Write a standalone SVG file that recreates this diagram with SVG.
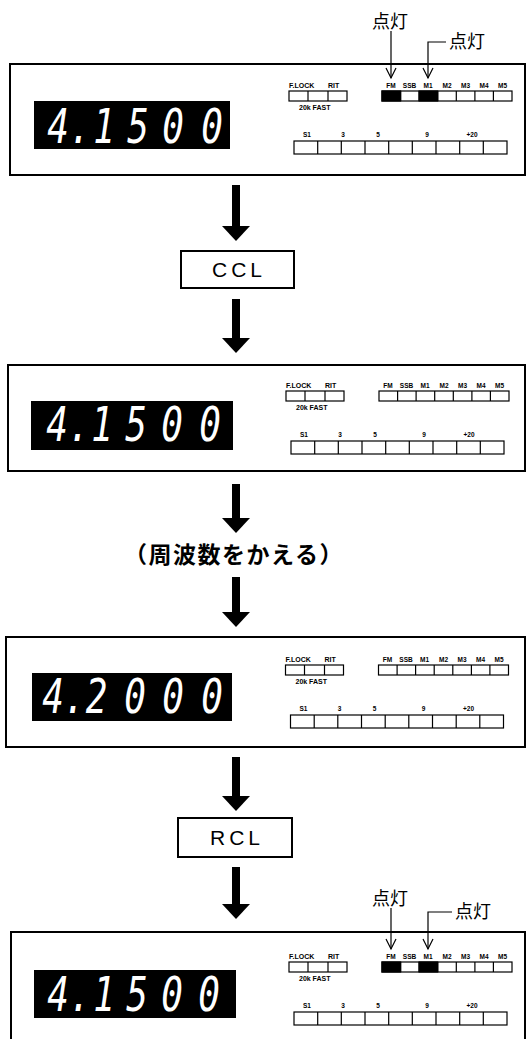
<svg xmlns="http://www.w3.org/2000/svg" width="528" height="1039" viewBox="0 0 528 1039">
<style>
  .panel{fill:#fff;stroke:#000;stroke-width:2}
  .disp{fill:#000}
  .seg{font-family:"DejaVu Sans Mono","Liberation Mono",monospace;font-style:italic;font-size:48px;fill:#fff;text-anchor:middle}
  .cell{fill:#fff;stroke:#000;stroke-width:1.2}
  .div{stroke:#000;stroke-width:1.2}
  .on{fill:#000;stroke:#000;stroke-width:1.2}
  .sm{font-family:"Liberation Sans",Arial,sans-serif;font-weight:bold;font-size:7px;fill:#000}
  .md{font-family:"Liberation Sans",Arial,sans-serif;font-weight:bold;font-size:6.5px;fill:#000;text-anchor:middle}
  .key{fill:#fff;stroke:#000;stroke-width:2}
  .keyt{font-family:"Liberation Sans",Arial,sans-serif;font-size:21px;fill:#000;text-anchor:middle;letter-spacing:4px}
  .jp{font-family:"Noto Sans CJK JP","Noto Sans CJK SC",sans-serif;fill:#000}
  .big{stroke:#000;stroke-width:8;fill:none;marker-end:url(#bighead)}
  .call{stroke:#000;stroke-width:1.2;fill:none}
  .callA{marker-end:url(#vhead)}
</style>
<defs>
  <marker id="bighead" markerUnits="userSpaceOnUse" markerWidth="30" markerHeight="16" refX="14" refY="0" orient="0" viewBox="0 0 28 16" overflow="visible">
    <path d="M0,0 L28,0 L14,15 Z" fill="#000"/>
  </marker>
  <marker id="vhead" markerUnits="userSpaceOnUse" markerWidth="12" markerHeight="12" refX="0" refY="0" orient="auto" viewBox="-11 -6 12 12" overflow="visible">
    <path d="M-10,-5 L0,0 L-10,5" fill="none" stroke="#000" stroke-width="1.2"/>
  </marker>
</defs>
<rect x="0" y="0" width="528" height="1039" fill="#fff"/>

<!-- Panel 1 -->
<g id="panel1">
  <rect class="panel" x="10" y="64" width="515" height="111"/>
  <rect class="disp" x="34" y="101" width="196" height="48"/>
  <text class="seg" y="143" transform="scale(0.75,1)"><tspan x="77.33">4</tspan><tspan x="106.67">.</tspan><tspan x="138.67">1</tspan><tspan x="184">5</tspan><tspan x="230.67">0</tspan><tspan x="282.67">0</tspan></text>
  <g>
    <text class="sm" x="289" y="88">F.LOCK</text>
    <text class="sm" x="328" y="88">RIT</text>
    <rect class="cell" x="289" y="91" width="58" height="10"/>
    <line class="div" x1="308" y1="91" x2="308" y2="101"/>
    <line class="div" x1="328" y1="91" x2="328" y2="101"/>
    <text class="sm" x="299" y="110">20k FAST</text>
    <text class="md" x="391" y="88">FM</text><text class="md" x="409.5" y="88">SSB</text><text class="md" x="428" y="88">M1</text><text class="md" x="447" y="88">M2</text><text class="md" x="465.5" y="88">M3</text><text class="md" x="484" y="88">M4</text><text class="md" x="502.5" y="88">M5</text>
    <rect class="cell" x="382" y="91" width="130" height="10"/>
    <rect class="on" x="382" y="91" width="18.6" height="10"/>
    <rect class="on" x="419.1" y="91" width="18.6" height="10"/>
    <path class="div" d="M400.6,91V101M419.1,91V101M437.7,91V101M456.3,91V101M474.9,91V101M493.4,91V101"/>
    <text class="md" x="307" y="137">S1</text><text class="md" x="343" y="137">3</text><text class="md" x="378" y="137">5</text><text class="md" x="427" y="137">9</text><text class="md" x="472" y="137">+20</text>
    <rect class="cell" x="294" y="141" width="213" height="13"/>
    <path class="div" d="M317.7,141V154M341.3,141V154M365,141V154M388.7,141V154M412.3,141V154M436,141V154M459.7,141V154M483.3,141V154"/>
  </g>
  <text class="jp" x="390" y="28" font-size="18" text-anchor="middle">点灯</text>
  <text class="jp" x="449" y="48" font-size="18">点灯</text>
</g>

<!-- CCL key -->
<g id="ccl">
  <rect class="key" x="181" y="251" width="113" height="37"/>
  <text class="keyt" x="239" y="277">CCL</text>
</g>

<!-- Panel 2 -->
<g id="panel2">
  <rect class="panel" x="8" y="365" width="517" height="106"/>
  <rect class="disp" x="31" y="401" width="202" height="49"/>
  <text class="seg" y="441" transform="scale(0.75,1)"><tspan x="76">4</tspan><tspan x="105.33">.</tspan><tspan x="136">1</tspan><tspan x="181.33">5</tspan><tspan x="229.33">0</tspan><tspan x="280">0</tspan></text>
  <g transform="translate(-3,300)">
    <text class="sm" x="289" y="88">F.LOCK</text>
    <text class="sm" x="328" y="88">RIT</text>
    <rect class="cell" x="289" y="91" width="58" height="10"/>
    <line class="div" x1="308" y1="91" x2="308" y2="101"/>
    <line class="div" x1="328" y1="91" x2="328" y2="101"/>
    <text class="sm" x="299" y="110">20k FAST</text>
    <text class="md" x="391" y="88">FM</text><text class="md" x="409.5" y="88">SSB</text><text class="md" x="428" y="88">M1</text><text class="md" x="447" y="88">M2</text><text class="md" x="465.5" y="88">M3</text><text class="md" x="484" y="88">M4</text><text class="md" x="502.5" y="88">M5</text>
    <rect class="cell" x="382" y="91" width="130" height="10"/>
    <path class="div" d="M400.6,91V101M419.1,91V101M437.7,91V101M456.3,91V101M474.9,91V101M493.4,91V101"/>
    <text class="md" x="307" y="137">S1</text><text class="md" x="343" y="137">3</text><text class="md" x="378" y="137">5</text><text class="md" x="427" y="137">9</text><text class="md" x="472" y="137">+20</text>
    <rect class="cell" x="294" y="141" width="213" height="13"/>
    <path class="div" d="M317.7,141V154M341.3,141V154M365,141V154M388.7,141V154M412.3,141V154M436,141V154M459.7,141V154M483.3,141V154"/>
  </g>
</g>

<!-- Change frequency -->
<g id="change">
  <text class="jp" x="234" y="563" font-size="23" font-weight="bold" text-anchor="middle" letter-spacing="1.5">（周波数をかえる）</text>
</g>

<!-- Panel 3 -->
<g id="panel3">
  <rect class="panel" x="6" y="637" width="519" height="110"/>
  <rect class="disp" x="32" y="673" width="200" height="48"/>
  <text class="seg" y="713" transform="scale(0.75,1)"><tspan x="70.67">4</tspan><tspan x="99.33">.</tspan><tspan x="128.67">2</tspan><tspan x="180">0</tspan><tspan x="230.67">0</tspan><tspan x="282.67">0</tspan></text>
  <g transform="translate(-3.5,574)">
    <text class="sm" x="289" y="88">F.LOCK</text>
    <text class="sm" x="328" y="88">RIT</text>
    <rect class="cell" x="289" y="91" width="58" height="10"/>
    <line class="div" x1="308" y1="91" x2="308" y2="101"/>
    <line class="div" x1="328" y1="91" x2="328" y2="101"/>
    <text class="sm" x="299" y="110">20k FAST</text>
    <text class="md" x="391" y="88">FM</text><text class="md" x="409.5" y="88">SSB</text><text class="md" x="428" y="88">M1</text><text class="md" x="447" y="88">M2</text><text class="md" x="465.5" y="88">M3</text><text class="md" x="484" y="88">M4</text><text class="md" x="502.5" y="88">M5</text>
    <rect class="cell" x="382" y="91" width="130" height="10"/>
    <path class="div" d="M400.6,91V101M419.1,91V101M437.7,91V101M456.3,91V101M474.9,91V101M493.4,91V101"/>
    <text class="md" x="307" y="137">S1</text><text class="md" x="343" y="137">3</text><text class="md" x="378" y="137">5</text><text class="md" x="427" y="137">9</text><text class="md" x="472" y="137">+20</text>
    <rect class="cell" x="294" y="141" width="213" height="13"/>
    <path class="div" d="M317.7,141V154M341.3,141V154M365,141V154M388.7,141V154M412.3,141V154M436,141V154M459.7,141V154M483.3,141V154"/>
  </g>
</g>

<!-- RCL key -->
<g id="rcl">
  <rect class="key" x="178" y="818" width="114" height="39"/>
  <text class="keyt" x="237" y="845">RCL</text>
</g>

<!-- Panel 4 -->
<g id="panel4">
  <rect class="panel" x="11" y="932" width="514" height="115"/>
  <rect class="disp" x="34" y="970" width="202" height="48"/>
  <text class="seg" y="1011" transform="scale(0.75,1)"><tspan x="77.33">4</tspan><tspan x="106.67">.</tspan><tspan x="138.67">1</tspan><tspan x="182.67">5</tspan><tspan x="229.33">0</tspan><tspan x="278.67">0</tspan></text>
  <g transform="translate(0,871)">
    <text class="sm" x="289" y="88">F.LOCK</text>
    <text class="sm" x="328" y="88">RIT</text>
    <rect class="cell" x="289" y="91" width="58" height="10"/>
    <line class="div" x1="308" y1="91" x2="308" y2="101"/>
    <line class="div" x1="328" y1="91" x2="328" y2="101"/>
    <text class="sm" x="299" y="110">20k FAST</text>
    <text class="md" x="391" y="88">FM</text><text class="md" x="409.5" y="88">SSB</text><text class="md" x="428" y="88">M1</text><text class="md" x="447" y="88">M2</text><text class="md" x="465.5" y="88">M3</text><text class="md" x="484" y="88">M4</text><text class="md" x="502.5" y="88">M5</text>
    <rect class="cell" x="382" y="91" width="130" height="10"/>
    <rect class="on" x="382" y="91" width="18.6" height="10"/>
    <rect class="on" x="419.1" y="91" width="18.6" height="10"/>
    <path class="div" d="M400.6,91V101M419.1,91V101M437.7,91V101M456.3,91V101M474.9,91V101M493.4,91V101"/>
    <text class="md" x="307" y="137">S1</text><text class="md" x="343" y="137">3</text><text class="md" x="378" y="137">5</text><text class="md" x="427" y="137">9</text><text class="md" x="472" y="137">+20</text>
    <rect class="cell" x="294" y="141" width="213" height="13"/>
    <path class="div" d="M317.7,141V154M341.3,141V154M365,141V154M388.7,141V154M412.3,141V154M436,141V154M459.7,141V154M483.3,141V154"/>
  </g>
  <text class="jp" x="390" y="905" font-size="18" text-anchor="middle">点灯</text>
  <text class="jp" x="455" y="918" font-size="18">点灯</text>
</g>

<!-- Connectors -->
<g id="connectors">
  <line class="big" x1="236" y1="185" x2="236" y2="226"/>
  <line class="big" x1="236" y1="299" x2="236" y2="338"/>
  <line class="big" x1="236" y1="484" x2="236" y2="518"/>
  <line class="big" x1="236" y1="577" x2="236" y2="612"/>
  <line class="big" x1="236" y1="757" x2="236" y2="796"/>
  <line class="big" x1="236" y1="867" x2="236" y2="904"/>
  <path class="call callA" d="M391,31 V78"/>
  <path class="call callA" d="M446,42 H428 V78"/>
  <path class="call callA" d="M391,908 V949"/>
  <path class="call callA" d="M452,912 H428 V949"/>
</g>
</svg>
